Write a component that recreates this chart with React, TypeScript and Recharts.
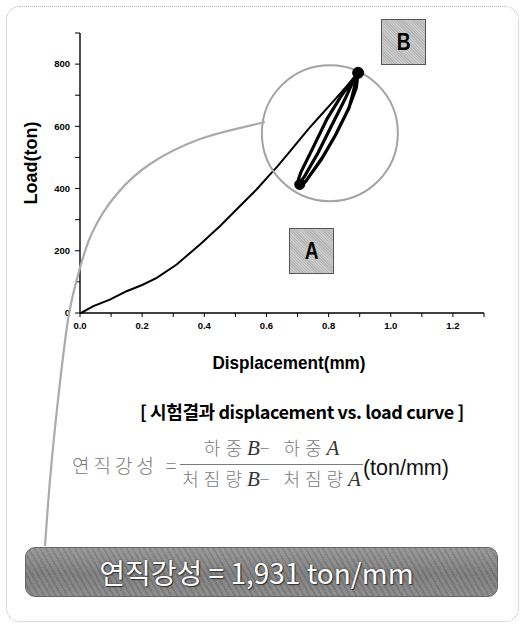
import { LineChart, Line, XAxis, YAxis, ReferenceDot } from 'recharts';

// primary loading curve
const loadingDisp = [0, 0.005, 0.043, 0.096, 0.15, 0.2, 0.247, 0.311, 0.386, 0.45, 0.514, 0.568, 0.611, 0.636, 0.681, 0.734, 0.777, 0.82, 0.863, 0.895];
const loadingLoad = [0, 1, 22, 43, 70, 90, 113, 156, 220, 279, 343, 397, 445, 472, 526, 590, 638, 686, 735, 772];

// unload / reload cycles between A and B
const cycleDisp = [0.895, 0.889, 0.863, 0.82, 0.777, 0.723, 0.707, 0.712, 0.723, 0.766, 0.809, 0.852, 0.879, 0.895, 0.892, 0.866, 0.824, 0.78, 0.728, 0.707, 0.703, 0.711, 0.753, 0.795, 0.838, 0.872, 0.895];
const cycleLoad = [772, 724, 654, 568, 494, 419, 413, 425, 440, 515, 601, 686, 745, 772, 760, 660, 575, 500, 425, 413, 430, 453, 538, 624, 694, 742, 772];

const pointA = { x: 0.707, y: 413 };
const pointB = { x: 0.895, y: 772 };
const zoomCircle = { x: 0.804, y: 578 };

const xTicks = [0, 0.1, 0.2, 0.3, 0.4, 0.5, 0.6, 0.7, 0.8, 0.9, 1.0, 1.1, 1.2, 1.3];
const yTicks = [0, 100, 200, 300, 400, 500, 600, 700, 800, 900];

const loading = loadingDisp.map((x, i) => ({ x, y: loadingLoad[i] }));
const cycles = cycleDisp.map((x, i) => ({ x, y: cycleLoad[i] }));

// leader line from the zoom circle down to the result banner (decoration)
const leader: [number, number][] = [
  [265, 122], [200, 139], [150, 164], [116, 195], [92, 233], [78, 275], [68, 320], [58, 400], [50, 480], [45, 546],
];

const smoothPath = (pts: [number, number][]) => {
  let d = `M${pts[0][0]},${pts[0][1]}`;
  for (let i = 0; i < pts.length - 1; i++) {
    const p0 = pts[Math.max(0, i - 1)];
    const p1 = pts[i];
    const p2 = pts[i + 1];
    const p3 = pts[Math.min(pts.length - 1, i + 2)];
    const c1 = [p1[0] + (p2[0] - p0[0]) / 6, p1[1] + (p2[1] - p0[1]) / 6];
    const c2 = [p2[0] - (p3[0] - p1[0]) / 6, p2[1] - (p3[1] - p1[1]) / 6];
    d += ` C${c1[0]},${c1[1]} ${c2[0]},${c2[1]} ${p2[0]},${p2[1]}`;
  }
  return d;
};

const sans = '"Liberation Sans", Arial, sans-serif';
const kr = '"Noto Sans CJK KR", sans-serif';
const serif = '"Liberation Serif", serif';

const xFmt = (v: number) => (Math.round(v * 10) % 2 === 0 && v < 1.25 ? v.toFixed(1) : '');
const yFmt = (v: number) => (v % 200 === 0 && v < 900 ? String(v) : '');

const boldText = (text: string, size: number, scale = 1) => (
  <span style={{ display: 'inline-block', fontFamily: sans, fontWeight: 'bold', fontSize: size, transform: `scaleX(${scale})`, whiteSpace: 'nowrap' }}>
    {text}
  </span>
);

const tagBox = (left: number, top: number, text: string) => (
  <div
    style={{
      position: 'absolute', left, top, width: 45, height: 46, boxSizing: 'border-box',
      background: 'repeating-linear-gradient(45deg, #cbcbcb 0 1px, #b6b6b6 1px 2px)', border: '1.5px solid #555', display: 'flex',
      alignItems: 'center', justifyContent: 'center', color: '#000', lineHeight: 1,
    }}
  >
    {boldText(text, 24, 0.8)}
  </div>
);

const Var = ({ c }: { c: string }) => <i style={{ fontFamily: serif, fontSize: 21, color: '#333', letterSpacing: 0 }}>{c}</i>;

const tickStyle = { fontSize: 9.5, fontWeight: 'bold', fill: '#000', fontFamily: sans };

export default function App() {
  return (
    <div style={{ position: 'absolute', left: 0, top: 0, width: 524, height: 627, background: '#fff', fontFamily: kr }}>
      <div style={{ position: 'absolute', left: 6, top: 6, width: 513, height: 616, border: '1px dotted #b5b5b5', borderRadius: 14, boxSizing: 'border-box' }} />

      <LineChart width={524} height={345} margin={{ top: 33, right: 40, left: 0, bottom: 0 }} style={{ position: 'absolute', left: 0, top: 0 }}>
        <XAxis
          dataKey="x" type="number" domain={[0, 1.3]} ticks={xTicks} tickFormatter={xFmt}
          height={32} tickSize={4} tickMargin={5} interval={0}
          axisLine={{ stroke: '#000', strokeWidth: 1.6 }} tickLine={{ stroke: '#000' }}
          tick={tickStyle}
        />
        <YAxis
          dataKey="y" type="number" domain={[0, 900]} ticks={yTicks} tickFormatter={yFmt} width={80}
          tickSize={5} tickMargin={5} interval={0}
          axisLine={{ stroke: '#000', strokeWidth: 1.4 }} tickLine={{ stroke: '#000' }}
          tick={tickStyle}
        />
        <ReferenceDot x={zoomCircle.x} y={zoomCircle.y} r={68} fill="none" stroke="#a3a3a3" strokeWidth={2} />
        <Line data={loading} dataKey="y" type="linear" stroke="#000" strokeWidth={2} dot={false} activeDot={false} isAnimationActive={false} />
        <Line data={cycles} dataKey="y" type="linear" stroke="#000" strokeWidth={3.2} dot={false} activeDot={false} isAnimationActive={false} />
        <ReferenceDot x={pointA.x} y={pointA.y} r={5} fill="#000" stroke="#000" />
        <ReferenceDot x={pointB.x} y={pointB.y} r={5.5} fill="#000" stroke="#000" />
      </LineChart>

      <svg width={524} height={627} style={{ position: 'absolute', left: 0, top: 0, pointerEvents: 'none' }}>
        <path d={smoothPath(leader)} fill="none" stroke="#aaa" strokeWidth={2.2} />
      </svg>

      {tagBox(381, 19, 'B')}
      {tagBox(289, 228, 'A')}

      <div style={{ position: 'absolute', left: 0, top: 0, width: 200, height: 20, lineHeight: '20px', textAlign: 'center', transform: 'translate(-70px, 153px) rotate(-90deg)' }}>
        {boldText('Load(ton)', 18)}
      </div>
      <div style={{ position: 'absolute', left: 0, width: 578, top: 353, textAlign: 'center', lineHeight: 1 }}>
        {boldText('Displacement(mm)', 19, 0.9)}
      </div>
      <div style={{ position: 'absolute', left: 0, width: 604, top: 401, textAlign: 'center', fontWeight: 'bold', fontSize: 18, letterSpacing: -0.4, lineHeight: 1.2 }}>
        [ 시험결과 displacement vs. load curve ]
      </div>

      <div style={{ position: 'absolute', left: 72, top: 437, height: 54, display: 'flex', alignItems: 'center', color: '#7a7a7a' }}>
        <span style={{ fontSize: 19, fontWeight: 300, letterSpacing: 4 }}>연직강성 =</span>
        <div style={{ display: 'flex', flexDirection: 'column', alignItems: 'center', marginLeft: 0, fontSize: 18, fontWeight: 300, letterSpacing: 5, lineHeight: 1.3 }}>
          <div style={{ padding: '0 4px 1px' }}>
            하중<Var c="B" />− 하중<Var c="A" />
          </div>
          <div style={{ borderTop: '1.5px solid #7a7a7a', padding: '1px 2px 0' }}>
            처짐량<Var c="B" />− 처짐량<Var c="A" />
          </div>
        </div>
        <span style={{ fontFamily: sans, fontSize: 21.5, color: '#111', marginTop: 8 }}>(ton/mm)</span>
      </div>

      <div
        style={{
          position: 'absolute', left: 25, top: 547, width: 473, height: 50, borderRadius: 10, boxSizing: 'border-box',
          border: '1.5px solid #666',
          background: 'repeating-linear-gradient(60deg, rgba(0,0,0,0.08) 0 2px, rgba(255,255,255,0.06) 2px 5px), linear-gradient(180deg, #959595 0%, #7c7c7c 55%, #888 100%)',
          display: 'flex', alignItems: 'center', justifyContent: 'center',
        }}
      >
        <span style={{ color: '#fff', fontSize: 28, fontFamily: kr, textShadow: '0 0 2px #333, 1px 1px 1px #333', marginRight: 10, letterSpacing: 0 }}>
          연직강성 = 1,931 ton/mm
        </span>
      </div>
    </div>
  );
}
